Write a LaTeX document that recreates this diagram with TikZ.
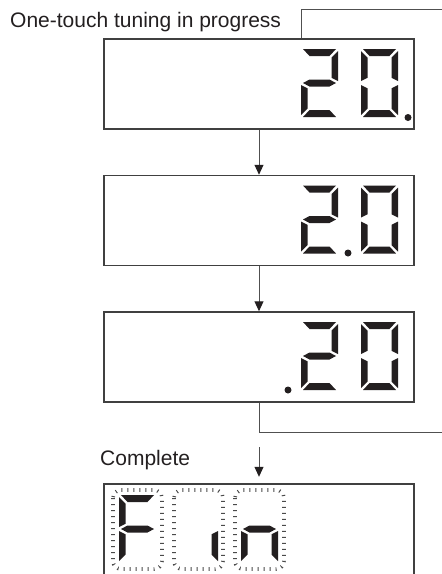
\documentclass[tikz,border=0pt]{standalone}
\usepackage{fontspec}
\setmainfont{Liberation Sans}
\usetikzlibrary{arrows.meta}
\definecolor{ink}{HTML}{231F20}
\definecolor{frame}{HTML}{404040}
\definecolor{wire}{HTML}{505050}
\definecolor{tick}{HTML}{4A4A4A}
% seven-segment pieces (local frame, y down, digit 37 x 68)
\newcommand\segA{\fill[ink] (2,0) -- (35,0) -- (28.5,7) -- (8.5,7) -- cycle;}
\newcommand\segD{\fill[ink] (2,68) -- (35,68) -- (28.5,61) -- (8.5,61) -- cycle;}
\newcommand\segF{\fill[ink] (0,2) -- (6.5,8.5) -- (6.5,28.75) -- (0,32) -- cycle;}
\newcommand\segB{\fill[ink] (37,2) -- (30.5,8.5) -- (30.5,28.75) -- (37,32) -- cycle;}
\newcommand\segE{\fill[ink] (0,36) -- (6.5,39.25) -- (6.5,59.5) -- (0,66) -- cycle;}
\newcommand\segC{\fill[ink] (37,36) -- (30.5,39.25) -- (30.5,59.5) -- (37,66) -- cycle;}
\newcommand\segG{\fill[ink] (2,34) -- (8.5,30.5) -- (28.5,30.5) -- (35,34) -- (28.5,37.5) -- (8.5,37.5) -- cycle;}
\newcommand\segdigit[3]{\begin{scope}[shift={(#1,#2)}]#3\end{scope}}
\tikzset{
  lbl/.style={inner sep=0pt, text=ink, font=\fontsize{21pt}{25pt}\selectfont},
  dispbox/.style={draw=frame, line width=1.5pt, minimum width=310pt, minimum height=90pt, inner sep=0pt},
  wireline/.style={draw=wire, line width=1pt},
  arr/.style={wireline, -{Triangle[width=9pt,length=10pt,fill=ink,color=ink]}},
  tickline/.style={draw=tick, line width=3.6pt, dash pattern=on 1pt off 5pt, rounded corners=8pt},
  dp/.style={fill=ink}
}
\begin{document}
\begin{tikzpicture}[x=1pt,y=-1pt]
\useasboundingbox (0,0) rectangle (442,574);
% labels
\node[lbl, anchor=base west] (title) at (10,27.5) {One-touch tuning in progress};
\node[lbl, anchor=base west] (done) at (100,465) {Complete};
% display boxes
\node[dispbox] (b1) at (259,84) {};
\node[dispbox] (b2) at (259,220.5) {};
\node[dispbox] (b3) at (259,357) {};
\node[minimum width=310pt, minimum height=90pt, inner sep=0pt] (b4) at (259,529) {};
\draw[frame, line width=1.5pt] (b4.south west) -- (b4.north west) -- (b4.north east) -- (b4.south east);
% digits box 1: 2 0.
\segdigit{301}{49}{\segA\segB\segG\segE\segD}
\segdigit{361}{49}{\segA\segB\segC\segD\segE\segF}
\fill[dp] (408,117.5) circle[radius=3.5pt];
% box 2: 2.0
\segdigit{301}{185.5}{\segA\segB\segG\segE\segD}
\segdigit{361}{185.5}{\segA\segB\segC\segD\segE\segF}
\fill[dp] (348,253) circle[radius=3.5pt];
% box 3: .20
\segdigit{301}{322}{\segA\segB\segG\segE\segD}
\segdigit{361}{322}{\segA\segB\segC\segD\segE\segF}
\fill[dp] (288,390) circle[radius=3.5pt];
% box 4: Fin with unlit outlines
\draw[tickline] (113,490) rectangle (162,569);
\draw[tickline] (174,490) rectangle (223,569);
\draw[tickline] (235,490) rectangle (284,569);
\segdigit{119}{495}{\segA\segF\segG\segE}
\segdigit{181}{495}{\segC}
\segdigit{241}{495}{\segG\segE\segC}
% connectors
\coordinate (t1) at (301,9);
\coordinate (tEnd) at (442,9);
\draw[wireline] (b1.north -| t1) -- (t1) -- (tEnd);
\draw[arr] (b1.south) -- (b2.north);
\draw[arr] (b2.south) -- (b3.north);
\coordinate (r1) at (259,432);
\coordinate (rEnd) at (442,432);
\draw[wireline] (b3.south) -- (r1) -- (rEnd);
\coordinate (a4s) at (259,447);
\draw[arr] (a4s) -- ([yshift=7pt]b4.north);
\end{tikzpicture}
\end{document}
